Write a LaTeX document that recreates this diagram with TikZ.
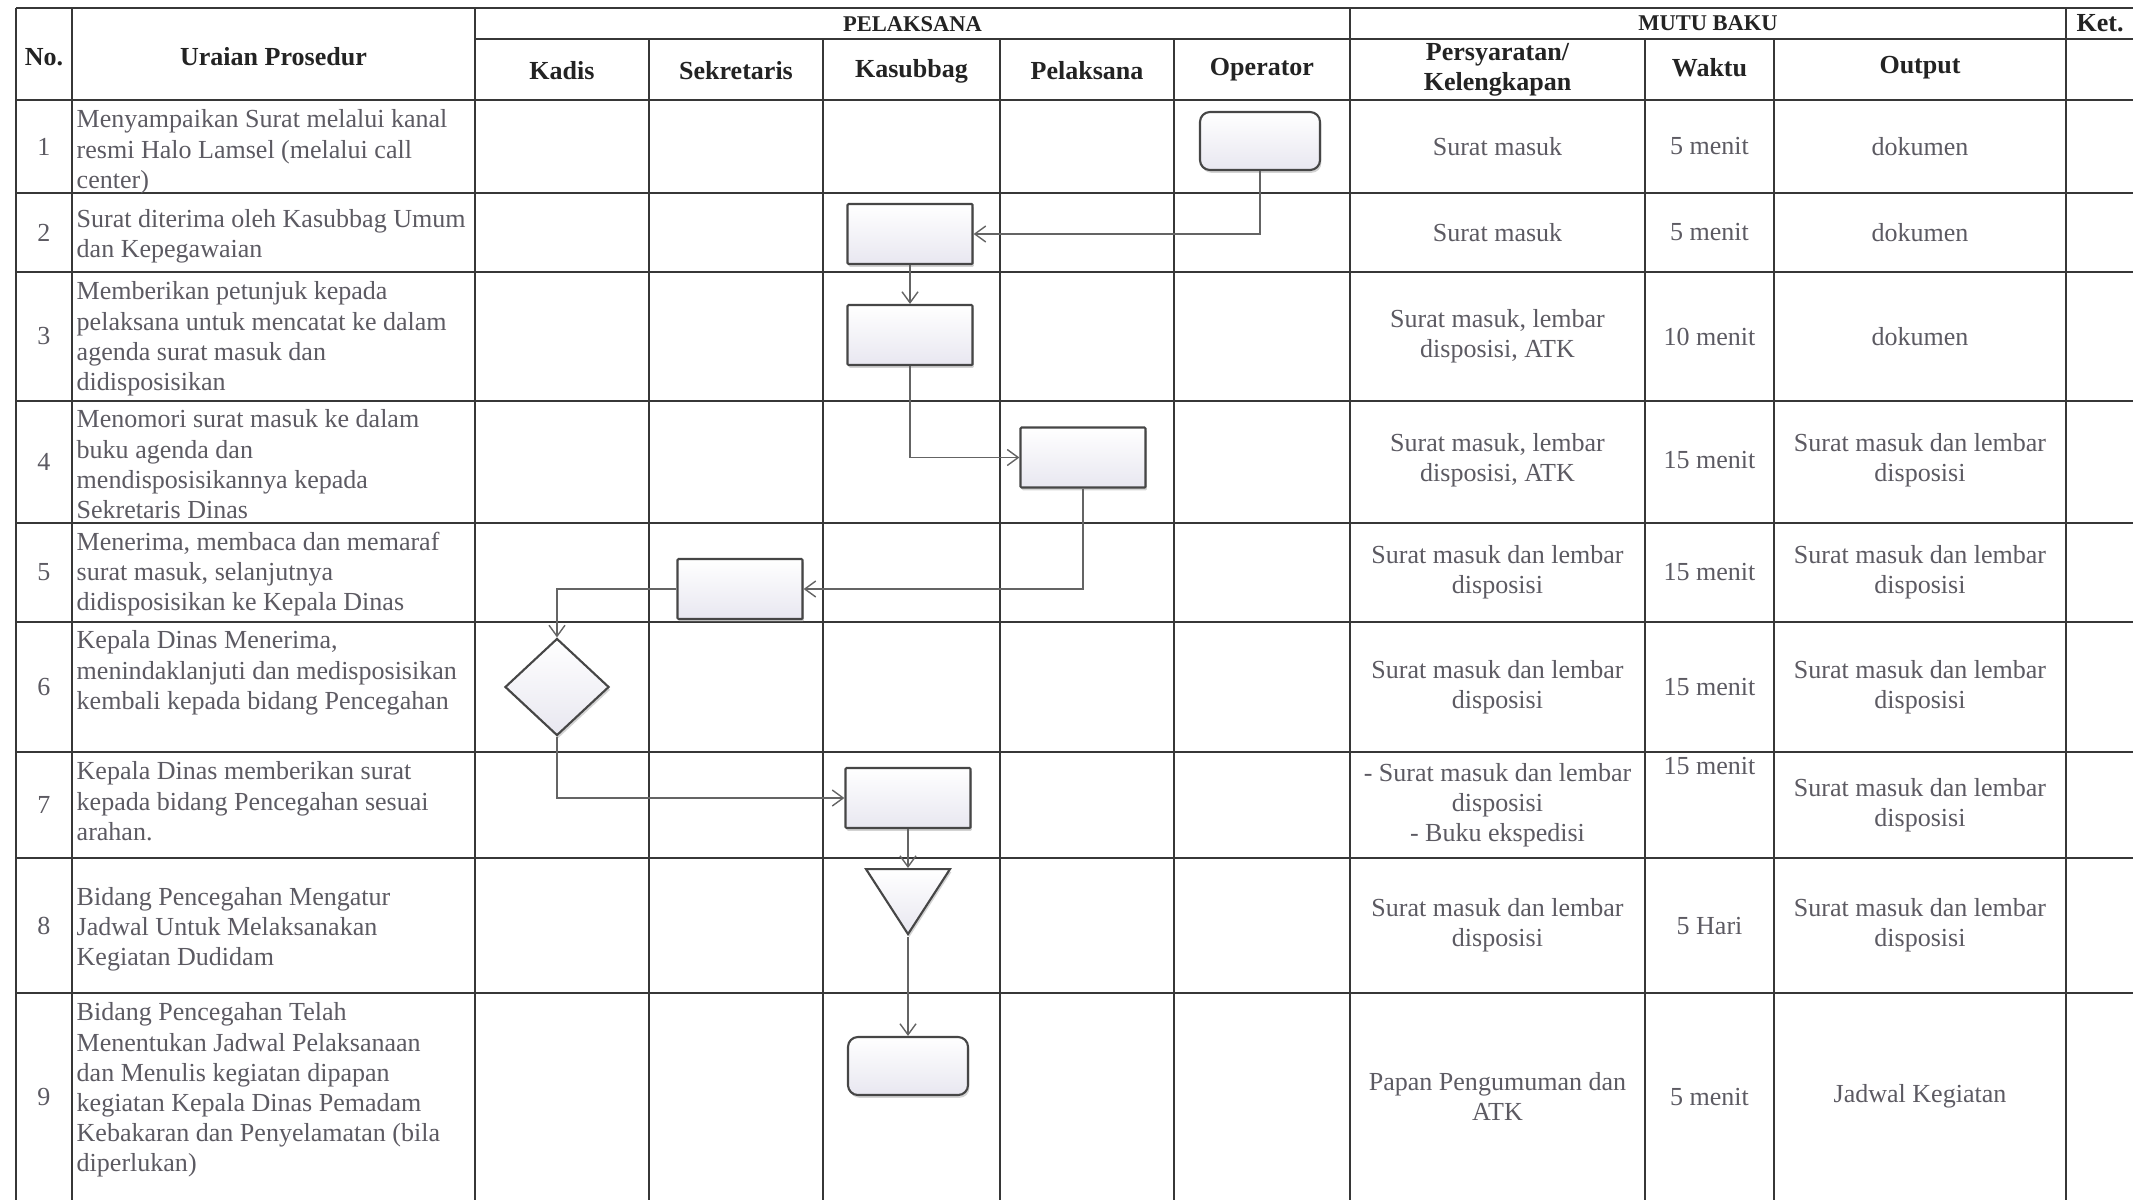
\documentclass[tikz,border=0pt]{standalone}
\usepackage{fontspec}
\setmainfont{Liberation Serif}
\usepackage{xcolor}
\definecolor{GridGray}{RGB}{55,55,55}
\definecolor{TextGray}{RGB}{92,90,98}
\definecolor{HeadGray}{RGB}{35,35,35}
\definecolor{ShapeFill}{RGB}{232,231,240}
\definecolor{ShapeLine}{RGB}{70,70,70}
\definecolor{FlowGray}{RGB}{100,100,100}
\usetikzlibrary{positioning,arrows.meta,shapes.geometric,shadows}

\begin{document}
\begin{tikzpicture}[x=0.01cm, y=-0.01cm,
    grid/.style={draw=GridGray, line width=0.7pt},
    head/.style={font=\fontsize{7.4}{8.6}\selectfont\bfseries, text=HeadGray,
                 align=center, inner sep=0pt},
    top/.style={head, font=\fontsize{6.4}{7.6}\selectfont\bfseries},
    cell/.style={font=\fontsize{7.4}{8.6}\selectfont, text=TextGray,
                 align=center, inner sep=0pt},
    prose/.style={font=\fontsize{7.4}{8.6}\selectfont, text=TextGray,
                  align=left, inner sep=0pt},
    sym/.style={draw=ShapeLine, line width=0.6pt, top color=white, bottom color=ShapeFill,
                drop shadow={shadow xshift=0.4pt, shadow yshift=-0.8pt, opacity=0.35},
                inner sep=0pt},
    proc/.style={sym, rectangle, rounded corners=0.3pt,
                 minimum width=1.25cm, minimum height=0.6cm},
    term/.style={sym, rectangle, rounded corners=1mm,
                 minimum width=1.2cm, minimum height=0.58cm},
    decide/.style={sym, diamond, minimum width=1.04cm, minimum height=0.97cm},
    merge/.style={sym, isosceles triangle, isosceles triangle stretches,
                  shape border rotate=270, minimum width=0.84cm, minimum height=0.65cm},
    arrow/.style={-{Straight Barb[length=1.1mm, width=1.6mm]}, draw=FlowGray, line width=0.4pt}
]
    \useasboundingbox (0,0) rectangle (2133,1200);

    \draw[grid] (16,8) -- (2133,8) (475,39) -- (2133,39);
    \foreach \y in {100,193,272,401,523,622,752,858,993}
        \draw[grid] (16,\y) -- (2133,\y);
    \foreach \x in {16,72,475,1350,2066}
        \draw[grid] (\x,8) -- (\x,1200);
    \foreach \x in {649,823,1000,1174,1645,1774}
        \draw[grid] (\x,39) -- (\x,1200);

    \node[head] (hno) at (44,57) {No.};
    \node[head] (hurai) at (273.5,57) {Uraian Prosedur};
    \node[top] (hpel) at (912.5,24) {PELAKSANA};
    \node[top] (hmutu) at (1708,23) {MUTU BAKU};
    \node[head] (hket) at (2100,23.5) {Ket.};
    \node[head] (hkadis) at (562,71) {Kadis};
    \node[head] (hsekr) at (736,71) {Sekretaris};
    \node[head] (hkasub) at (911.5,71) {Kasubbag};
    \node[head] (hpelak) at (1087,71) {Pelaksana};
    \node[head] (hoper) at (1262,70) {Operator};
    \node[head] (hsyarat) at (1497.5,69.5) {Persyaratan/\\ Kelengkapan};
    \node[head] (hwaktu) at (1709.5,68) {Waktu};
    \node[head] (houtput) at (1920,68) {Output};

    \foreach \n/\y in {1/146.5,2/232.5,3/336.5,4/462,5/572.5,6/687,7/805,8/925.5,9/1096.5}
        \node[cell] (no\n) at (44,\y) {\n};

    \node[prose, anchor=north west] (u1) at (76,109) {Menyampaikan Surat melalui kanal\\ resmi Halo Lamsel (melalui call\\ center)};
    \node[prose, anchor=west] (u2) at (76,236.5) {Surat diterima oleh Kasubbag Umum\\ dan Kepegawaian};
    \node[prose, anchor=north west] (u3) at (76,281) {Memberikan petunjuk kepada\\ pelaksana untuk mencatat ke dalam\\ agenda surat masuk dan\\ didisposisikan};
    \node[prose, anchor=north west] (u4) at (76,409) {Menomori surat masuk ke dalam\\ buku agenda dan\\ mendisposisikannya kepada\\ Sekretaris Dinas};
    \node[prose, anchor=north west] (u5) at (76,531) {Menerima, membaca dan memaraf\\ surat masuk, selanjutnya\\ didisposisikan ke Kepala Dinas};
    \node[prose, anchor=north west] (u6) at (76,630) {Kepala Dinas Menerima,\\ menindaklanjuti dan medisposisikan\\ kembali kepada bidang Pencegahan};
    \node[prose, anchor=north west] (u7) at (76,761) {Kepala Dinas memberikan surat\\ kepada bidang Pencegahan sesuai\\ arahan.};
    \node[prose, anchor=west] (u8) at (76,929.5) {Bidang Pencegahan Mengatur\\ Jadwal Untuk Melaksanakan\\ Kegiatan Dudidam};
    \node[prose, anchor=north west] (u9) at (76,1002) {Bidang Pencegahan Telah\\ Menentukan Jadwal Pelaksanaan\\ dan Menulis kegiatan dipapan\\ kegiatan Kepala Dinas Pemadam\\ Kebakaran dan Penyelamatan (bila\\ diperlukan)};

    \node[cell] (s1) at (1497.5,146.5) {Surat masuk};
    \node[cell] (s2) at (1497.5,232.5) {Surat masuk};
    \node[cell] (s3) at (1497.5,336.5) {Surat masuk, lembar\\ disposisi, ATK};
    \node[cell] (s4) at (1497.5,460) {Surat masuk, lembar\\ disposisi, ATK};
    \node[cell] (s5) at (1497.5,572.5) {Surat masuk dan lembar\\ disposisi};
    \node[cell] (s6) at (1497.5,687) {Surat masuk dan lembar\\ disposisi};
    \node[cell] (s7) at (1497.5,805) {- Surat masuk dan lembar\\ disposisi\\ - Buku ekspedisi};
    \node[cell] (s8) at (1497.5,925.5) {Surat masuk dan lembar\\ disposisi};
    \node[cell] (s9) at (1497.5,1096.5) {Papan Pengumuman dan\\ ATK};

    \node[cell] (w1) at (1709.5,146.5) {5 menit};
    \node[cell] (w2) at (1709.5,232.5) {5 menit};
    \node[cell] (w3) at (1709.5,336.5) {10 menit};
    \node[cell] (w4) at (1709.5,460) {15 menit};
    \node[cell] (w5) at (1709.5,572.5) {15 menit};
    \node[cell] (w6) at (1709.5,687) {15 menit};
    \node[cell, anchor=north] (w7) at (1709.5,757) {15 menit};
    \node[cell] (w8) at (1709.5,925.5) {5 Hari};
    \node[cell] (w9) at (1709.5,1096.5) {5 menit};

    \node[cell] (o1) at (1920,146.5) {dokumen};
    \node[cell] (o2) at (1920,232.5) {dokumen};
    \node[cell] (o3) at (1920,336.5) {dokumen};
    \node[cell] (o4) at (1920,460) {Surat masuk dan lembar\\ disposisi};
    \node[cell] (o5) at (1920,572.5) {Surat masuk dan lembar\\ disposisi};
    \node[cell] (o6) at (1920,687) {Surat masuk dan lembar\\ disposisi};
    \node[cell] (o7) at (1920,805) {Surat masuk dan lembar\\ disposisi};
    \node[cell] (o8) at (1920,925.5) {Surat masuk dan lembar\\ disposisi};
    \node[cell] (o9) at (1920,1096.5) {Jadwal Kegiatan};

    \node[term] (mulai) at (1260,141) {};
    \node[proc] (terima) at (910,234) {};
    \node[proc] (catat) at (910,335) {};
    \node[proc] (nomor) at (1083,457.5) {};
    \node[proc] (paraf) at (740,589) {};
    \node[decide] (kadis) at (557,687) {};
    \node[proc] (beri) at (908,798) {};
    \node[merge, anchor=north] (atur) at (908,868) {};
    \node[term] (jadwal) at (908,1066) {};

    \draw[arrow] (mulai.south) |- (terima.east);
    \draw[arrow] (terima.south) -- (catat.north);
    \draw[arrow] (catat.south) |- (nomor.west);
    \draw[arrow] (nomor.south) |- (paraf.east);
    \draw[arrow] (paraf.west) -| (kadis.north);
    \draw[arrow] (kadis.south) |- (beri.west);
    \draw[arrow] (beri.south) -- (atur.north);
    \draw[arrow] (atur.south) -- (jadwal.north);
\end{tikzpicture}
\end{document}
